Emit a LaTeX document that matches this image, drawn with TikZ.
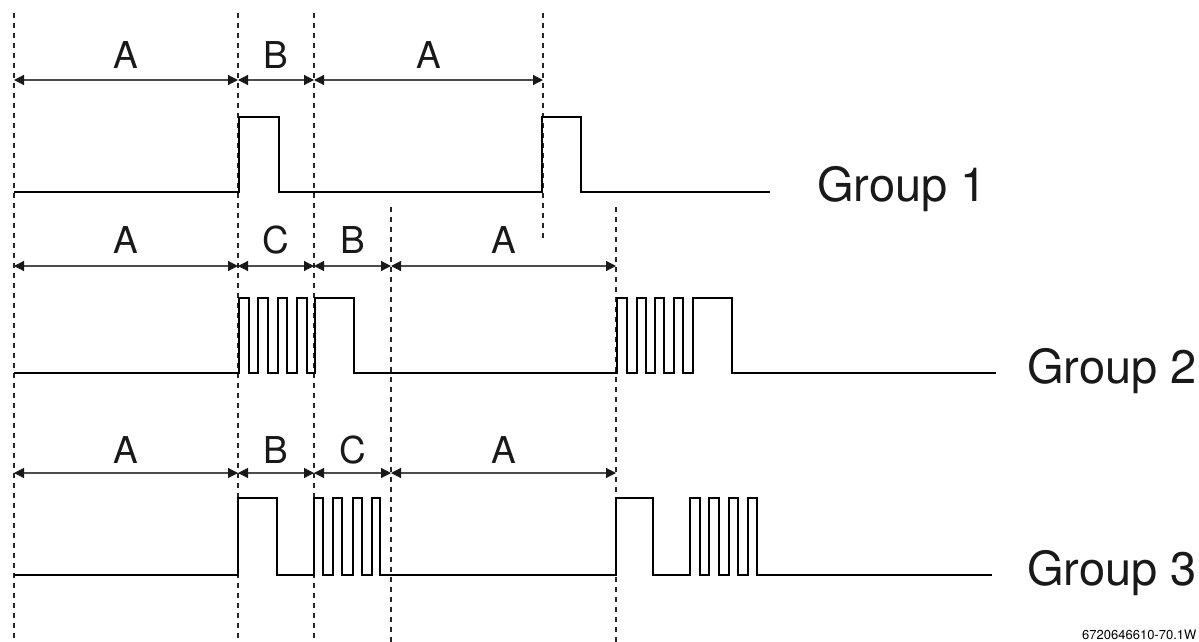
\documentclass[tikz,border=0pt]{standalone}
\usepackage{fontspec}
\setmainfont{TeX Gyre Heros}
\usetikzlibrary{arrows.meta}
\begin{document}
\begin{tikzpicture}[x=1pt,y=-1pt,
  sig/.style={black, line width=2.2pt, line join=miter},
  guide/.style={black!85, line width=1.5pt, dash pattern=on 5pt off 5pt},
  dim/.style={draw=black!70, line width=1.2pt, {Triangle[length=10pt,width=10pt,black!90]}-{Triangle[length=10pt,width=10pt,black!90]}},
  lab/.style={text=black!90, font=\fontsize{37}{40}\selectfont, anchor=base, inner sep=0pt},
  grp/.style={text=black!90, font=\fontsize{47}{52}\selectfont, anchor=base west, inner sep=0pt},
  code/.style={text=black, font=\fontsize{13}{15}\selectfont, anchor=base west, inner sep=0pt}]
\useasboundingbox (0,0) rectangle (1199,642);

% guide line positions
\coordinate (g1t) at (14,13);   \coordinate (g1b) at (14,642);
\coordinate (g2t) at (238,13);  \coordinate (g2b) at (238,642);
\coordinate (g3t) at (314,13);  \coordinate (g3b) at (314,642);
\coordinate (g4t) at (543,13);  \coordinate (g4b) at (543,241);
\coordinate (g5t) at (391,207); \coordinate (g5b) at (391,642);
\coordinate (g6t) at (616,207); \coordinate (g6b) at (616,642);

\draw[guide] (g1t) -- (g1b);
\draw[guide] (g2t) -- (g2b);
\draw[guide] (g3t) -- (g3b);
\draw[guide] (g4t) -- (g4b);
\draw[guide] (g5t) -- (g5b);
\draw[guide] (g6t) -- (g6b);

% dimension rows
\coordinate (r1) at (0,80);
\coordinate (r2) at (0,266);
\coordinate (r3) at (0,473);

% row 1
\draw[dim] (g1t |- r1) -- node[lab, yshift=12pt] {A} (g2t |- r1);
\draw[dim] (g2t |- r1) -- node[lab, yshift=12pt] {B} (g3t |- r1);
\draw[dim] (g3t |- r1) -- node[lab, yshift=12pt] {A} (g4t |- r1);
% row 2
\draw[dim] (g1t |- r2) -- node[lab, yshift=13pt] {A} (g2t |- r2);
\draw[dim] (g2t |- r2) -- node[lab, yshift=13pt] {C} (g3t |- r2);
\draw[dim] (g3t |- r2) -- node[lab, yshift=13pt] {B} (g5t |- r2);
\draw[dim] (g5t |- r2) -- node[lab, yshift=13pt] {A} (g6t |- r2);
% row 3
\draw[dim] (g1t |- r3) -- node[lab, yshift=10pt] {A} (g2t |- r3);
\draw[dim] (g2t |- r3) -- node[lab, yshift=10pt] {B} (g3t |- r3);
\draw[dim] (g3t |- r3) -- node[lab, yshift=10pt] {C} (g5t |- r3);
\draw[dim] (g5t |- r3) -- node[lab, yshift=10pt] {A} (g6t |- r3);

% signal 1
\draw[sig] (14,192) -- (239,192) -- (239,117) -- (279,117) -- (279,192)
  -- (542,192) -- (542,117) -- (581,117) -- (581,192) -- (770,192);

% signal 2
\draw[sig] (14,373) -- (239,373) -- (239,298) -- (249,298) -- (249,373)
  -- (258,373) -- (258,298) -- (268,298) -- (268,373)
  -- (278,373) -- (278,298) -- (287,298) -- (287,373)
  -- (297,373) -- (297,298) -- (307,298) -- (307,373)
  -- (315,373) -- (315,298) -- (354,298) -- (354,373)
  -- (617,373) -- (617,298) -- (627,298) -- (627,373)
  -- (637,373) -- (637,298) -- (646,298) -- (646,373)
  -- (655,373) -- (655,298) -- (664,298) -- (664,373)
  -- (674,373) -- (674,298) -- (683,298) -- (683,373)
  -- (693,373) -- (693,298) -- (732,298) -- (732,373) -- (996,373);

% signal 3
\draw[sig] (14,575) -- (238,575) -- (238,498) -- (277,498) -- (277,575)
  -- (314,575) -- (314,498) -- (323,498) -- (323,575)
  -- (333,575) -- (333,498) -- (342,498) -- (342,575)
  -- (353,575) -- (353,498) -- (362,498) -- (362,575)
  -- (372,575) -- (372,498) -- (380,498) -- (380,575)
  -- (616,575) -- (616,498) -- (653,498) -- (653,575)
  -- (690,575) -- (690,498) -- (700,498) -- (700,575)
  -- (709,575) -- (709,498) -- (719,498) -- (719,575)
  -- (729,575) -- (729,498) -- (738,498) -- (738,575)
  -- (748,575) -- (748,498) -- (757,498) -- (757,575) -- (992,575);

% group labels
\node[grp] (grp1) at (817,201) {Group 1};
\node[grp] (grp2) at (1027,383) {Group 2};
\node[grp] (grp3) at (1027,585) {Group 3};
\node[code] (fig) at (1082,639) {6720646610-70.1W};
\end{tikzpicture}
\end{document}
